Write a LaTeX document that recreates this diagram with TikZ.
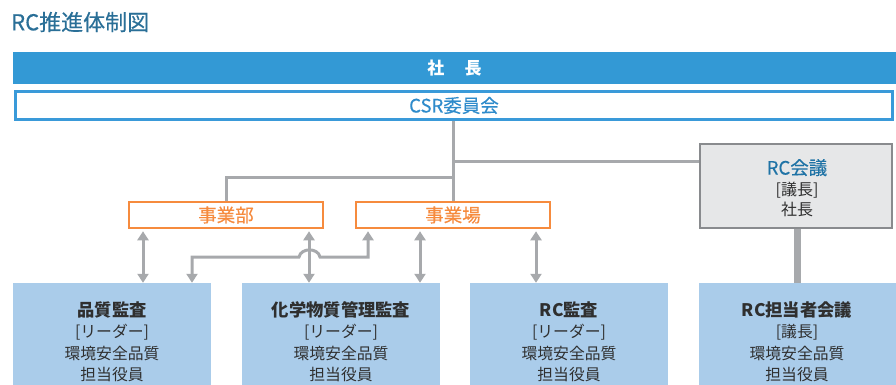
\documentclass[tikz,border=0pt]{standalone}
\usepackage{fontspec}
\setmainfont{Noto Sans CJK JP}
\newfontfamily\medfont{Noto Sans CJK JP}[FakeBold=0.35]
\usetikzlibrary{arrows.meta}
\definecolor{titleblue}{HTML}{2A6F97}
\definecolor{barblue}{HTML}{3399D5}
\definecolor{csrblue}{HTML}{3A9AD9}
\definecolor{csrtext}{HTML}{2E8BCB}
\definecolor{orangeline}{HTML}{F68B3E}
\definecolor{lgray}{HTML}{A7A9AC}
\definecolor{boxgray}{HTML}{E6E7E8}
\definecolor{boxborder}{HTML}{898B8E}
\definecolor{lightblue}{HTML}{AACCEA}
\definecolor{darktext}{HTML}{2F2F2F}
\definecolor{rcblue}{HTML}{1F73A6}
\tikzset{
  bar/.style={fill=barblue, draw=none, inner sep=0pt, minimum width=883pt, minimum height=32pt, text=white, font=\fontsize{17}{19}\selectfont\bfseries},
  csrbox/.style={draw=csrblue, line width=2.5pt, fill=white, inner sep=0pt, minimum width=877pt, minimum height=28pt, text=csrtext, font=\fontsize{18.5}{20}\selectfont\medfont},
  orbox/.style={draw=orangeline, line width=2.5pt, fill=white, inner sep=0pt, minimum width=194pt, minimum height=26pt, text=orangeline, font=\fontsize{18.5}{20}\selectfont\medfont},
  graybox/.style={draw=boxborder, line width=2.5pt, fill=boxgray, inner sep=0pt, minimum width=192pt, minimum height=84pt},
  lbbox/.style={fill=lightblue, draw=none, inner sep=0pt, minimum width=198pt, minimum height=102pt},
  lbtext/.style={align=center, text=darktext, inner sep=0pt, font=\fontsize{15.8}{21.5}\selectfont},
  conn/.style={draw=lgray, line width=3pt},
  darr/.style={conn, {Triangle[width=11pt,length=9pt]}-{Triangle[width=11pt,length=9pt]}},
}
\begin{document}
\begin{tikzpicture}[x=1pt,y=-1pt]
\useasboundingbox (0,0) rectangle (896,385);
\node[anchor=west, text=titleblue, inner sep=0pt, font=\fontsize{22}{24}\selectfont\medfont] (title) at (11,22) {RC推進体制図};
\node[bar] (pres) at (454.5,68) {社\hspace{1.2em}長};
\node[csrbox] (csr) at (454,105.5) {CSR委員会};
\node[orbox] (jbu) at (226,215) {事業部};
\node[orbox] (jjo) at (453,215) {事業場};
\node[graybox] (rck) at (796,186) {};
\node[align=center, inner sep=0pt, text=darktext, font=\fontsize{16}{20.5}\selectfont] (rckt) at (797,188)
  {{\fontsize{18.5}{20}\selectfont\medfont\color{rcblue}RC会議}\\[0pt][議長]\\社長};
\node[lbbox] (a) at (112,334) {};
\node[lbbox] (b) at (341,334) {};
\node[lbbox] (c) at (569,334) {};
\node[lbbox, minimum width=197pt] (d) at (797.5,334) {};
\node[lbtext] (at) at (112,342) {{\fontsize{17.3}{20}\selectfont\bfseries 品質監査}\\[-0.5pt][リーダー]\\環境安全品質\\担当役員};
\node[lbtext] (bt) at (341,342) {{\fontsize{17.3}{20}\selectfont\bfseries 化学物質管理監査}\\[-0.5pt][リーダー]\\環境安全品質\\担当役員};
\node[lbtext] (ct) at (569,342) {{\fontsize{17.3}{20}\selectfont\bfseries RC監査}\\[-0.5pt][リーダー]\\環境安全品質\\担当役員};
\node[lbtext] (dt) at (797,342) {{\fontsize{17.3}{20}\selectfont\bfseries RC担当者会議}\\[-0.5pt][議長]\\環境安全品質\\担当役員};
% connectors
\coordinate (j1) at (453,161);
\coordinate (j2) at (453,177);
\draw[conn] (csr.south -| jjo.north) -- (jjo.north);
\draw[conn] (j1) -- (j1 -| rck.west);
\draw[conn] (j2) -| (jbu.north);
\draw[draw=lgray, line width=6.5pt] (rck.south -| d.north) -- (d.north);
% double arrows
\draw[darr, shorten <=2pt, shorten >=0pt] (jbu.south -| 143,0) -- (a.north -| 143,0);
\draw[darr, shorten <=2pt] (jbu.south -| 309,0) -- (b.north -| 309,0);
\draw[darr, shorten <=2pt] (jjo.south -| 420,0) -- (b.north -| 420,0);
\draw[darr, shorten <=2pt] (jjo.south -| 536,0) -- (c.north -| 536,0);
\coordinate (h1) at (368,257);
\coordinate (h2) at (192,257);
\draw[darr, shorten <=2pt] (jjo.south -| h1) -- (h1) -- (320,257) .. controls (318,247.5) and (301,247.5) .. (299,257) -- (h2) -- (a.north -| h2);
\end{tikzpicture}
\end{document}
